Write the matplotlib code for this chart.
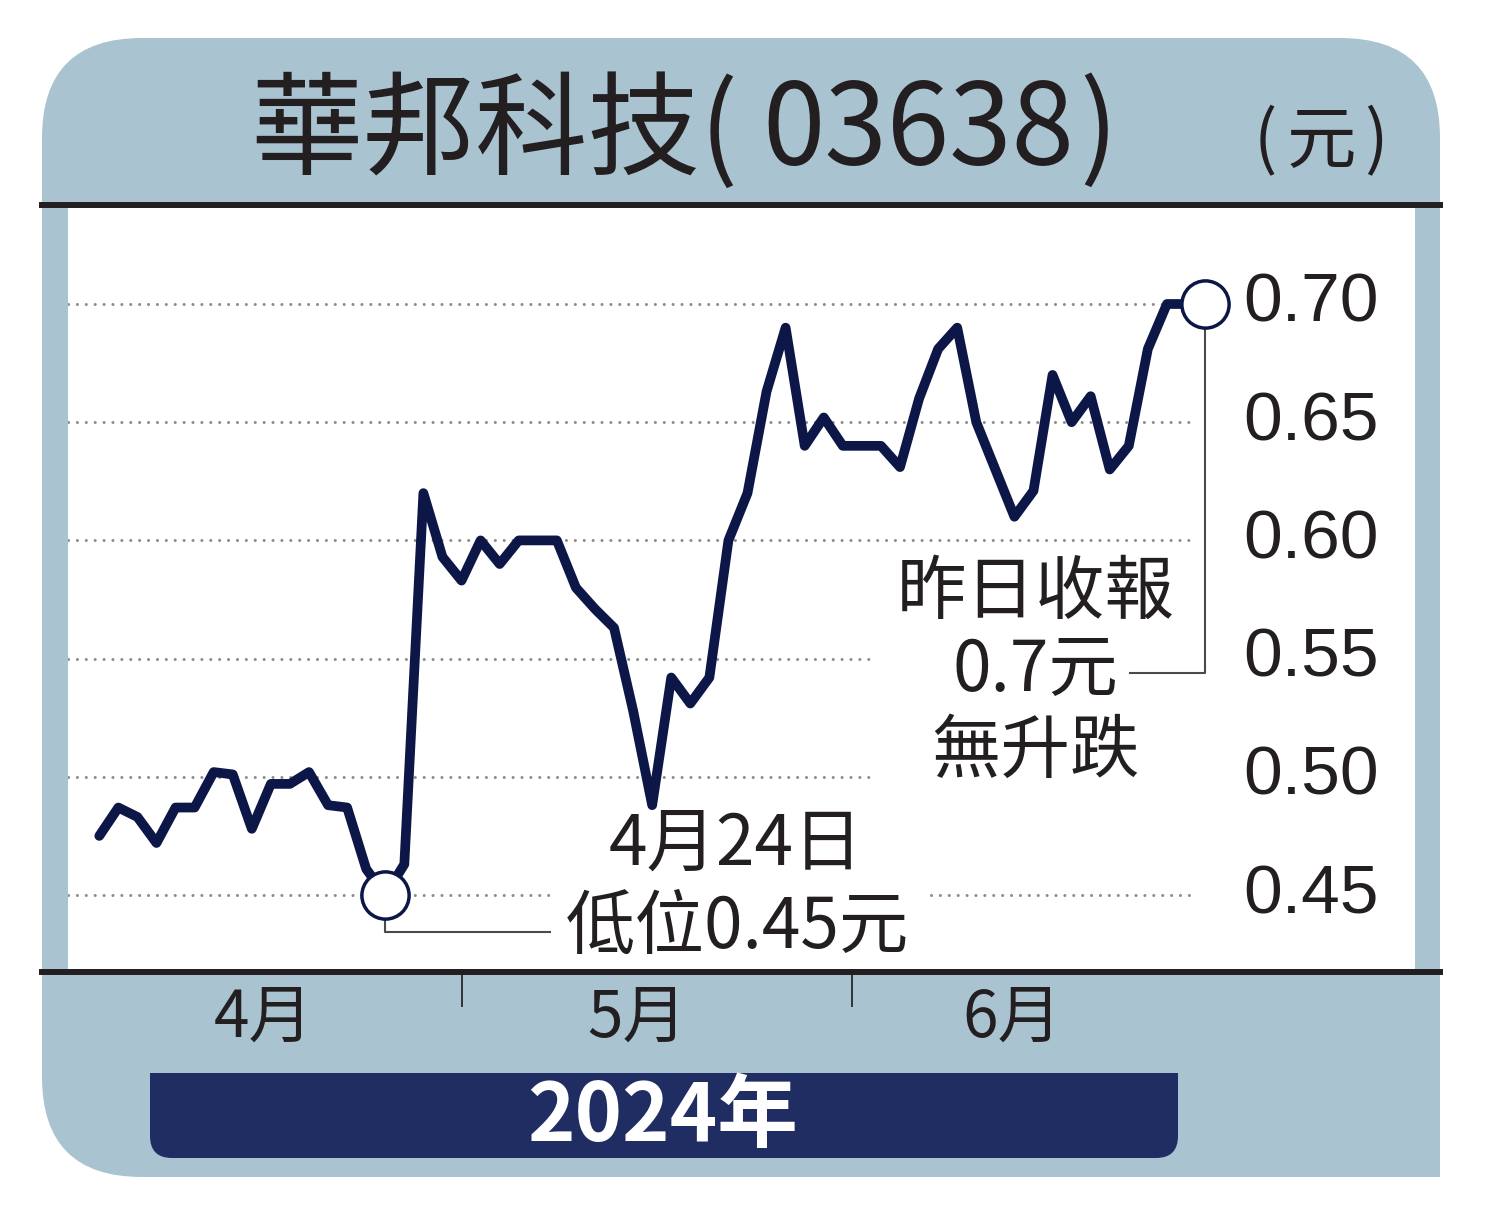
import numpy as np
import matplotlib.pyplot as plt
from matplotlib.patches import FancyBboxPatch, Rectangle
from matplotlib.lines import Line2D

plt.rcParams['font.family'] = ['Noto Sans CJK TC', 'DejaVu Sans']

# daily closes, HK trading days 2 Apr - 27 Jun 2024 (index = trading day)
prices = [0.475, 0.487, 0.483, 0.472, 0.487, 0.487, 0.502, 0.501, 0.478, 0.497,
          0.497, 0.502, 0.488, 0.487, 0.461, 0.45, 0.463, 0.62, 0.593, 0.583,
          0.60, 0.59, 0.60, 0.60, 0.60, 0.58, 0.571, 0.563, 0.528, 0.488,
          0.542, 0.531, 0.542, 0.60, 0.62, 0.663, 0.69, 0.64, 0.652, 0.64,
          0.64, 0.64, 0.631, 0.66, 0.681, 0.69, 0.65, 0.63, 0.61, 0.621,
          0.67, 0.65, 0.661, 0.63, 0.64, 0.681, 0.70, 0.70, 0.70]
days = np.arange(len(prices))

y_levels = [0.70, 0.65, 0.60, 0.55, 0.50, 0.45]
month_labels = ['4月', '5月', '6月']
month_centres = [8.6, 28.2, 47.9]
month_bounds = [19.0, 39.5]

title_name = '華邦科技('
title_code = '03638'
unit_parts = ['(', '元', ')']
year = '2024年'
low_text = ['4月24日', '低位0.45元']
close_text = ['昨日收報', '0.7元', '無升跌']

# colours
PANEL = '#a9c3d1'
NAVY = '#0d1747'
BOX = '#1f2d63'
INK = '#231f20'
GRID = '#8c8c8c'

W, H = 1500, 1221
fig = plt.figure(figsize=(15, 12.21), dpi=100)

# background panel in pixel coords
bg = fig.add_axes([0, 0, 1, 1], zorder=0)
bg.set_xlim(0, W)
bg.set_ylim(H, 0)
bg.axis('off')
bg.add_patch(FancyBboxPatch((42, 38), 1398, 1139, boxstyle='round,pad=0,rounding_size=100',
                            fc=PANEL, ec='none'))
bg.add_patch(Rectangle((1340, 1077), 100, 100, fc=PANEL, ec='none'))
bg.add_patch(FancyBboxPatch((150, 1073), 1028, 85, boxstyle='round,pad=0,rounding_size=22',
                            fc=BOX, ec='none'))
bg.add_patch(Rectangle((150, 1073), 1028, 40, fc=BOX, ec='none'))

# title, pieces placed so the spacing matches the print
bg.text(250, 133, title_name, fontsize=81, ha='left', va='center', color=INK)
bg.text(1074, 133, title_code, fontsize=81, ha='right', va='center', color=INK)
bg.text(1117, 133, ')', fontsize=81, ha='right', va='center', color=INK)
for t, xx in zip(unit_parts, [1265, 1321, 1376]):
    bg.text(xx, 143, t, fontsize=50, ha='center', va='center', color=INK)
bg.text(663, 1117, year, fontsize=58, ha='center', va='center', color='white', weight='bold')

for yy in (205, 972):
    fig.add_artist(Line2D([42, 1440], [yy, yy], transform=bg.transData,
                          color=INK, lw=4.3, zorder=5))

# chart area
ax = fig.add_axes([68 / W, 1 - 969 / H, (1415 - 68) / W, (969 - 208) / H], zorder=1)
ax.set_facecolor('white')
for s in ax.spines.values():
    s.set_visible(False)

x0 = (68 - 99.3) / 19.07
ax.set_xlim(x0, 58 + (1415 - 1205) / 19.07)
ax.set_ylim(0.45 - (969 - 895) / 2364, 0.70 + (304 - 208) / 2364)

# dotted gridlines, cut where the notes sit
grid_segments = [(0.70, x0, 57.6), (0.65, x0, 57.6), (0.60, x0, 57.6),
                 (0.55, x0, 40.4), (0.50, x0, 40.4),
                 (0.45, x0, 23.6), (0.45, 43.6, 57.6)]
for lev, a, b in grid_segments:
    ax.plot([a, b], [lev, lev], color=GRID, lw=2.2, linestyle=(0, (0.01, 2.9)),
            dash_capstyle='round', zorder=1)

ax.plot(days, prices, color=NAVY, lw=7, solid_joinstyle='round',
        solid_capstyle='round', zorder=3)

i_low = int(np.argmin(prices))
i_last = len(prices) - 1

# leader lines
ax.plot([i_low, i_low, 23.65], [prices[i_low], 0.4344, 0.4344], color='#4a4a4a', lw=1.5, zorder=2)
ax.plot([i_last, i_last, 54.06], [prices[i_last], 0.5439, 0.5439], color='#4a4a4a', lw=1.5, zorder=2)

for i in (i_low, i_last):
    ax.plot(days[i], prices[i], 'o', ms=34, mfc='white', mec=NAVY, mew=2.5, zorder=5)

ax.text(33.4, 0.4711, low_text[0], fontsize=50, ha='center', va='center', color=INK)
ax.text(33.5, 0.4360, low_text[1], fontsize=50, ha='center', va='center', color=INK)
for t, yy in zip(close_text, [0.5778, 0.5448, 0.5105]):
    ax.text(49.1, yy, t, fontsize=50, ha='center', va='center', color=INK)

# y labels on the right, inside the white area
ax.yaxis.tick_right()
ax.set_yticks(y_levels)
ax.set_yticklabels([f'{v:.2f}' for v in y_levels], family=['Liberation Sans'],
                   color=INK, va='center')
ax.tick_params(axis='y', length=0, pad=-124, labelsize=50)

# month separators and labels
ax.set_xticks(month_bounds)
ax.set_xticklabels([])
ax.set_xticks(month_centres, minor=True)
ax.set_xticklabels(month_labels, minor=True, color=INK)
ax.tick_params(axis='x', which='major', length=27, width=1.4, color='#333333', direction='out')
ax.tick_params(axis='x', which='minor', length=0, pad=12, labelsize=46)

fig.savefig('out.png', dpi=100)
